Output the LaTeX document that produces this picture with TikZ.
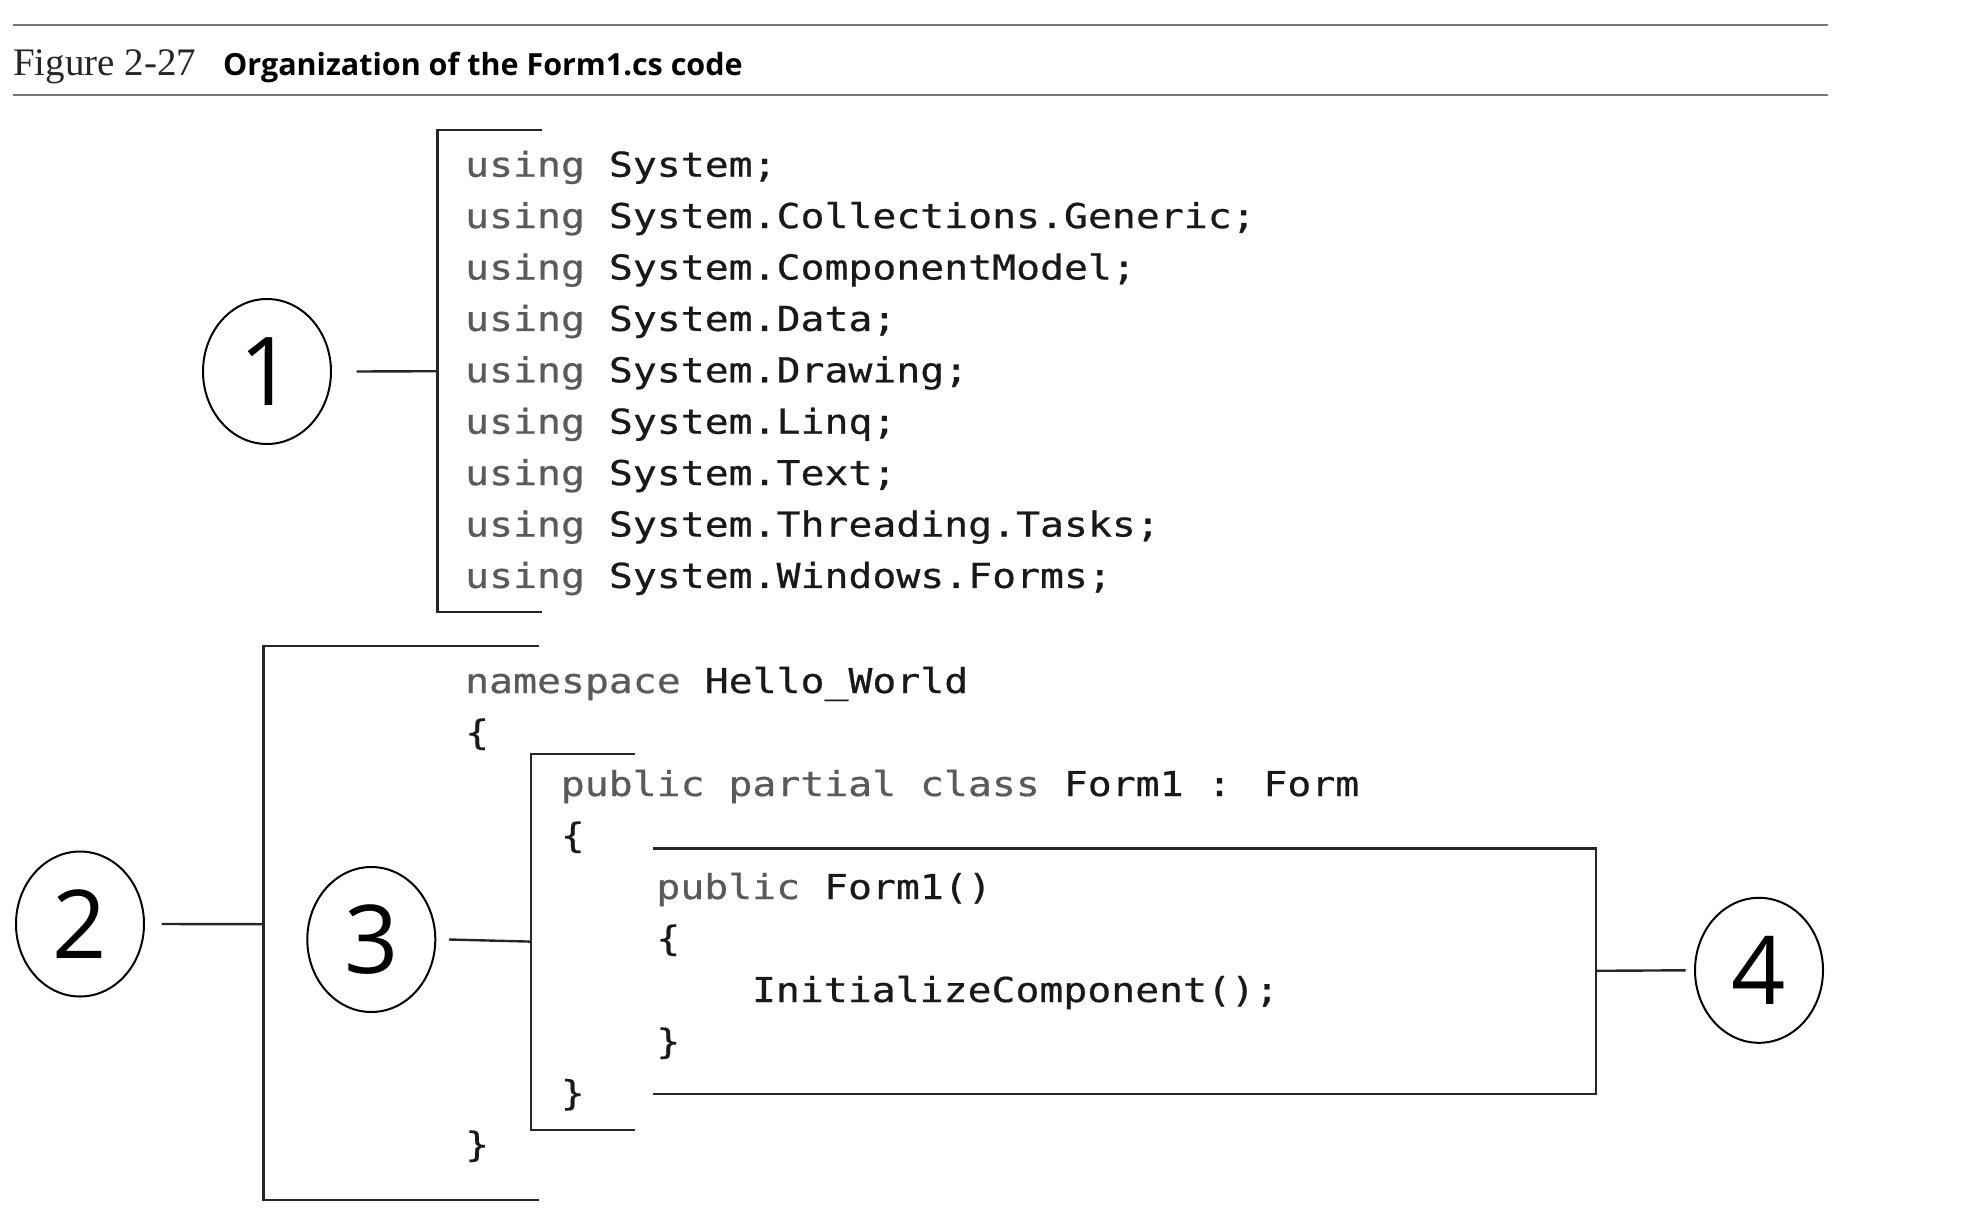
\documentclass[tikz,border=0pt]{standalone}
\usepackage{fontspec}
\usepackage{tikz}
\usetikzlibrary{shapes.geometric, positioning}
\setmainfont{Liberation Serif}
\newfontfamily\codefont{DejaVu Sans Mono}[FakeStretch=1.16, FakeBold=0.6]
\newfontfamily\numfont{Open Sans}
\newfontfamily\capfont{Open Sans}
\definecolor{kw}{HTML}{5A5A5A}
\definecolor{rulegray}{HTML}{7A7A7A}
\newcommand{\kw}[1]{{\color{kw}#1}}

\begin{document}
\begin{tikzpicture}[x=1pt, y=-1pt,
	code/.style={inner sep=0, anchor=base west, text=black!90, font=\codefont\fontsize{34.3}{40}\selectfont},
	num/.style={draw, ellipse, line width=2pt, inner sep=0, minimum width=128pt, minimum height=145pt, font=\numfont\fontsize{95}{95}\selectfont},
	bracket/.style={draw=black!85, line width=2.4pt},
	link/.style={draw=black!85, line width=2.4pt}]
	\useasboundingbox (0,0) rectangle (1980,1226);

	% caption
	\draw[rulegray, line width=1.6pt] (13,25) -- (1828,25) (13,95) -- (1828,95);
	\node[inner sep=0, anchor=base west, font=\fontsize{39}{42}\selectfont, text=black!85] (fig) at (13,75) {Figure 2-27};
	\node[inner sep=0, anchor=base west, font=\capfont\bfseries\fontsize{30.5}{36}\selectfont] (cap) at (223,75) {Organization of the Form1.cs code};

	% using block
	\foreach \ns [count=\i from 0] in {System, System.Collections.Generic, System.ComponentModel, System.Data, System.Drawing, System.Linq, System.Text, System.Threading.Tasks, System.Windows.Forms}
		\node[code] (u\i) at (465,176.7+51.4*\i) {\kw{using} \ns;};

	% namespace block
	\node[code] (l0) at (465,693) {\kw{namespace} Hello\_World};
	\node[code] (l1) at (465,744.5) {\{};
	\node[code] (l2) at (560.6,796) {\kw{public partial class} Form1 : Form};
	\node[code] (l3) at (560.6,847.5) {\{};
	\node[code] (l4) at (656.2,899) {\kw{public} Form1()};
	\node[code] (l5) at (656.2,950.5) {\{};
	\node[code] (l6) at (751.8,1002) {InitializeComponent();};
	\node[code] (l7) at (656.2,1053.5) {\}};
	\node[code] (l8) at (560.6,1105) {\}};
	\node[code] (l9) at (465,1156.5) {\}};

	% brackets
	\draw[bracket] (541.7,130) -- (437.5,130) -- (437.5,612) -- (541.7,612);
	\draw[bracket] (539,646) -- (263.3,646) -- (263.3,1200) -- (539,1200);
	\draw[bracket] (635,754) -- (530.7,754) -- (530.7,1130) -- (635,1130);
	\draw[bracket] (652.7,848.3) -- (1595.7,848.3) -- (1595.7,1094) -- (652.7,1094);
	\coordinate (b1) at (437.5,371.2);
	\coordinate (b2) at (263.3,924.2);
	\coordinate (b3) at (530.7,941.6);
	\coordinate (b4) at (1595.7,970.8);

	% callouts
	\node[num] (c1) at (267,371.5) {1};
	\node[num] (c2) at (80,924) {2};
	\node[num] (c3) at (371.3,939.5) {3};
	\node[num] (c4) at (1759,970.3) {4};
	\draw[link] (c1.east) ++(24.7,0) -- (b1)
		(c2.east) ++(16.7,0) -- (b2)
		(c3.east) ++(12.7,0) -- (b3)
		(c4.west) ++(-8.3,0) -- (b4);
\end{tikzpicture}
\end{document}
